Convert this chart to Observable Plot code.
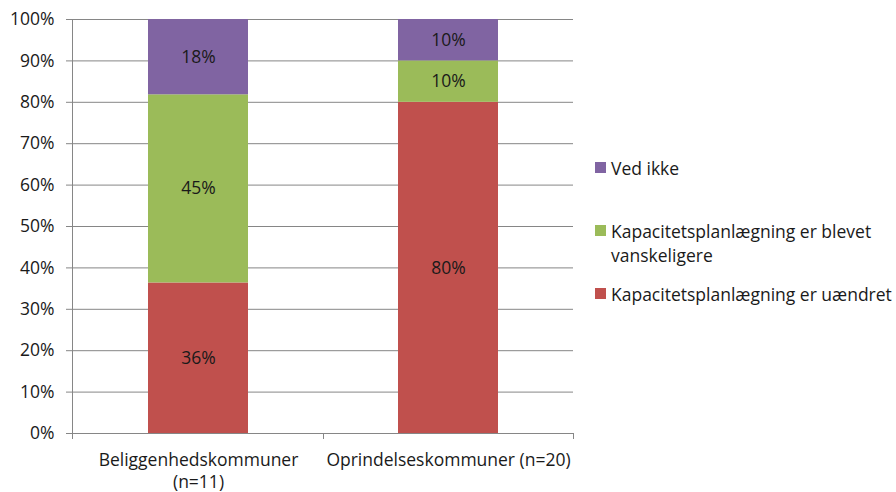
<!DOCTYPE html>
<html><head><meta charset="utf-8">
<script src="https://cdn.jsdelivr.net/npm/d3@7"></script>
<script src="https://cdn.jsdelivr.net/npm/@observablehq/plot@0.6"></script>
<style>
body{margin:0;background:#fff;}
#wrap{position:relative;width:896px;height:492px;font-family:"Open Sans",sans-serif;color:#1a1a1a;}
.item{position:absolute;left:595px;font-size:17.5px;line-height:24px;}
.sw{position:absolute;left:0;width:11px;height:11px;}
.lt{position:absolute;left:16px;white-space:nowrap;}
</style></head><body><div id="wrap"></div>
<script>
const categories = ["Beliggenhedskommuner (n=11)", "Oprindelseskommuner (n=20)"];
const categoryLabels = ["Beliggenhedskommuner\n(n=11)", "Oprindelseskommuner (n=20)"];
const series = ["Kapacitetsplanlægning er uændret", "Kapacitetsplanlægning er blevet vanskeligere", "Ved ikke"];
const uaendret = [36.36, 80];
const vanskeligere = [45.45, 10];
const vedIkke = [18.18, 10];
const colors = ["#C0504D", "#9BBB59", "#8064A2"];
const yTicks = [0, 10, 20, 30, 40, 50, 60, 70, 80, 90, 100];
const legendOrder = ["Ved ikke", "Kapacitetsplanlægning er blevet\nvanskeligere", "Kapacitetsplanlægning er uændret"];

const seriesValues = [uaendret, vanskeligere, vedIkke];
const data = [];
categories.forEach((c, i) => series.forEach((s, j) => data.push({category: c, series: s, value: seriesValues[j][i]})));

const gray = "#868686";
const fs = 17.5;
const axisMarks = (index, scales, values, dim) => {
  const g = d3.create("svg:g").attr("stroke", gray).attr("stroke-width", 1);
  const l = dim.marginLeft, r = dim.width - dim.marginRight, b = dim.height - dim.marginBottom, t = dim.marginTop;
  g.append("line").attr("x1", l + 0.5).attr("x2", l + 0.5).attr("y1", t).attr("y2", b);
  [l, (l + r) / 2, r].forEach(x => g.append("line").attr("x1", Math.round(x) + 0.5).attr("x2", Math.round(x) + 0.5).attr("y1", b).attr("y2", b + 6));
  return g.node();
};

const chart = Plot.plot({
  width: 896, height: 492,
  marginLeft: 72, marginRight: 323, marginTop: 19, marginBottom: 59,
  style: {fontFamily: "Open Sans", fontSize: fs + "px", color: "#1a1a1a", background: "#fff"},
  x: {domain: categories, paddingInner: 0.6, paddingOuter: 0.3},
  y: {domain: [0, 100]},
  color: {domain: series, range: colors},
  marks: [
    Plot.ruleY(yTicks, {stroke: gray, strokeOpacity: 1}),
    Plot.axisY({ticks: yTicks, tickFormat: d => d + "%", tickSize: 6, tickPadding: 12, stroke: gray, strokeOpacity: 1, fill: "#1a1a1a", fontSize: fs, label: null}),
    Plot.axisX({tickSize: 0, tickPadding: 17, tickFormat: d => categoryLabels[categories.indexOf(d)], lineHeight: 1.26, fill: "#1a1a1a", fontSize: fs, label: null}),
    Plot.barY(data, {x: "category", y: "value", fill: "series", z: "series", order: series}),
    Plot.text(data, Plot.stackY({x: "category", y: "value", z: "series", order: series, text: d => Math.round(d.value) + "%", fill: "#1a1a1a", fontSize: fs})),
    axisMarks
  ]
});
const wrap = document.getElementById("wrap");
wrap.appendChild(chart);

const legendTops = [156, 219, 282];
legendOrder.forEach((name, i) => {
  const s = series.indexOf(name.replace("\n", " "));
  const item = document.createElement("div");
  item.className = "item";
  item.style.top = legendTops[i] + "px";
  const sw = document.createElement("div");
  sw.className = "sw"; sw.style.background = colors[s]; sw.style.top = "6px";
  const lt = document.createElement("div");
  lt.className = "lt"; lt.style.top = "0px";
  lt.innerHTML = name.split("\n").join("<br>");
  item.appendChild(sw); item.appendChild(lt);
  wrap.appendChild(item);
});
</script></body></html>
